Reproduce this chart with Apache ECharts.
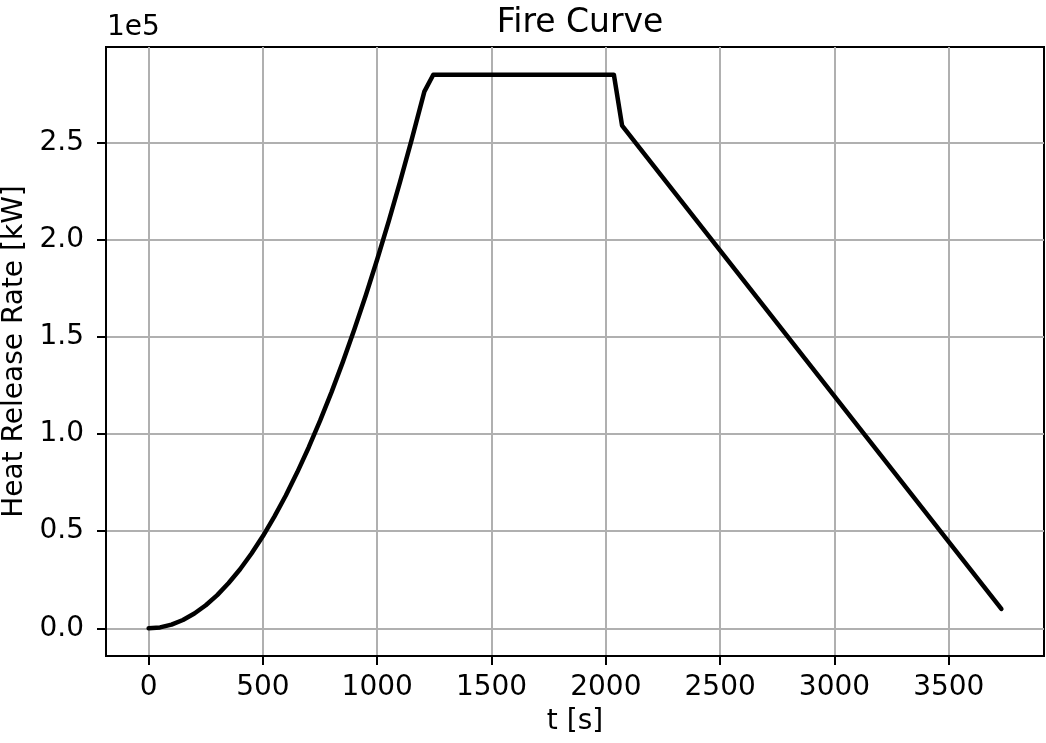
<!DOCTYPE html>
<html>
<head>
<meta charset="utf-8">
<script src="https://cdn.jsdelivr.net/npm/echarts@6/dist/echarts.min.js"></script>
<style>
html,body{margin:0;padding:0;background:#fff;}
#chart{width:1046px;height:743px;}
</style>
</head>
<body>
<div id="chart"></div>
<script>
// Data
const times = [0, 50, 100, 150, 200, 250, 300, 350, 400, 450, 500, 550, 600, 650, 700, 750, 800, 850, 900, 950, 1000, 1050, 1100, 1150, 1200, 1206, 1245, 2035, 2071, 3730];
const hrr = [0, 475, 1900, 4275, 7600, 11900, 17100, 23300, 30400, 38500, 47500, 57500, 68400, 80300, 93100, 106900, 121600, 137300, 153900, 171500, 190000, 209500, 229900, 251300, 273600, 276300, 285000, 285000, 258800, 10000];
const xTicks = [0, 500, 1000, 1500, 2000, 2500, 3000, 3500];
const yTicks = [0, 50000, 100000, 150000, 200000, 250000];
const titleText = 'Fire Curve';
const xName = 't [s]';
const yName = 'Heat Release Rate [kW]';
const yOffsetText = '1e5';

const FONT = 'DejaVu Sans';
const chart = echarts.init(document.getElementById('chart'), null, {renderer: 'canvas'});
const pts = times.map((t, i) => [t, hrr[i]]);

chart.setOption({
  animation: false,
  backgroundColor: '#fff',
  title: {
    text: titleText, left: 575, textAlign: 'center', top: 2,
    textStyle: {fontFamily: FONT, fontSize: 33, fontWeight: 'normal', color: '#000'}
  },
  graphic: [{
    type: 'text', left: 107, top: 14,
    style: {text: yOffsetText, font: '28px "DejaVu Sans"', fill: '#000'}
  }],
  grid: {left: 106, right: 2, top: 47, bottom: 87, show: true, borderColor: '#000', borderWidth: 2,
    backgroundColor: 'transparent', containLabel: false, outerBoundsMode: 'none'},
  xAxis: {
    type: 'value', min: -186.5, max: 3916.5, splitNumber: 8,
    name: xName, nameLocation: 'middle', nameGap: 52,
    nameTextStyle: {fontFamily: FONT, fontSize: 28, color: '#000'},
    axisLine: {show: true, onZero: false, lineStyle: {color: '#000', width: 2}},
    axisTick: {show: true, length: 9, lineStyle: {color: '#000', width: 2}, customValues: xTicks},
    axisLabel: {fontFamily: FONT, fontSize: 28, color: '#000', margin: 18, customValues: xTicks,
      formatter: v => String(v)},
    splitLine: {show: true, lineStyle: {color: '#b0b0b0', width: 2}}
  },
  yAxis: {
    type: 'value', min: -14250, max: 299250, splitNumber: 6,
    name: yName, nameLocation: 'middle', nameGap: 71,
    nameTextStyle: {fontFamily: FONT, fontSize: 28, color: '#000'},
    axisLine: {show: true, onZero: false, lineStyle: {color: '#000', width: 2}},
    axisTick: {show: true, length: 9, lineStyle: {color: '#000', width: 2}, customValues: yTicks},
    axisLabel: {fontFamily: FONT, fontSize: 28, color: '#000', margin: 22, customValues: yTicks,
      formatter: v => (v / 1e5).toFixed(1)},
    splitLine: {show: true, lineStyle: {color: '#b0b0b0', width: 2}}
  },
  series: [{
    type: 'line', data: pts, showSymbol: false, symbol: 'none',
    lineStyle: {color: '#000', width: 4.5, join: 'round', cap: 'round'},
    clip: false
  }]
});
</script>
</body>
</html>
